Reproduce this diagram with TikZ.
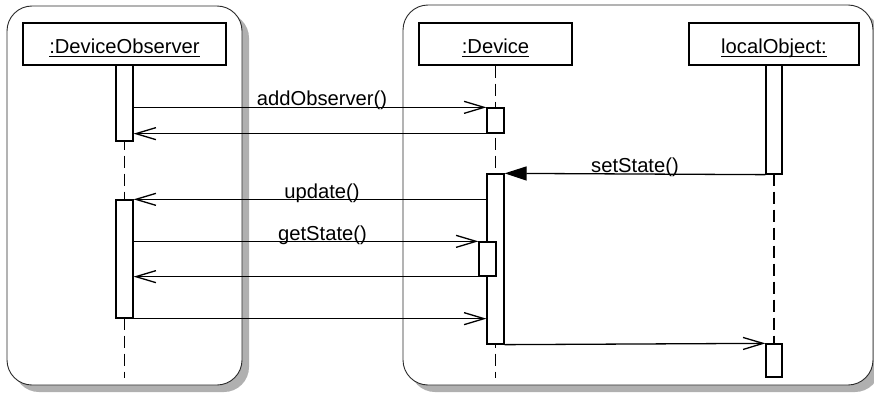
\documentclass[tikz,border=0pt]{standalone}
\usepackage{fontspec}
\setmainfont{Liberation Sans}
\usetikzlibrary{arrows.meta}
\newcommand{\ulx}[1]{\setbox0\hbox{#1}\rlap{\rule[-3.2pt]{\wd0}{1pt}}\box0}
\definecolor{shadowgrey}{HTML}{B0B0B0}
\definecolor{frameline}{HTML}{2A2A2A}
\begin{document}
\begin{tikzpicture}[x=1pt,y=-1pt,
  every node/.style={font=\fontsize{20.2}{24}\selectfont},
  frame/.style={draw=frameline,line width=0.9pt,fill=white,rounded corners=25pt},
  fshadow/.style={fill=shadowgrey,rounded corners=25pt},
  head/.style={draw,line width=1.3pt,fill=white,rectangle,minimum height=42pt,inner sep=0pt,text height=24pt,text depth=4pt},
  act/.style={draw,line width=1.3pt,fill=white,rectangle,minimum width=17pt,inner sep=0pt},
  life/.style={line width=1.3pt,dash pattern=on 12pt off 6pt},
  msg/.style={line width=1.3pt,-{Straight Barb[length=20pt,width=12pt,line width=1.3pt]}},
  syncmsg/.style={line width=1.3pt,-{Triangle[length=22pt,width=14pt]}},
  lbl/.style={anchor=base,inner sep=0pt}]
\useasboundingbox (0,0) rectangle (874,393);
\clip (0,0) rectangle (874,393);
\fill[white] (0,0) rectangle (874,393);
% containers
\path[fshadow] (14,13) rectangle (249,392);
\path[frame] (7,6) rectangle (242,385);
\path[fshadow] (410,12) rectangle (880,392);
\path[frame] (403,5) rectangle (873,385);
% heads
\node[head,minimum width=203pt] (obs) at (124.5,44) {\ulx{:DeviceObserver}};
\node[head,minimum width=153pt] (dev) at (495.5,44) {\ulx{:Device}};
\node[head,minimum width=170pt] (loc) at (774,44) {\ulx{localObject:}};
% end points of lifelines
\coordinate (obsend) at (124.5,378);
\coordinate (devend) at (495.5,378);
% activations (positions)
\coordinate (po1) at (124.5,103);
\coordinate (po2) at (124.5,259);
\coordinate (pd1) at (495.5,120.5);
\coordinate (pd2) at (495.5,259);
\coordinate (pd3) at (487.5,259);
\coordinate (pl1) at (774,119.5);
\coordinate (pl2) at (774,360.5);
% lifelines
\draw[life] (obs.south) -- (obsend);
\draw[life] (dev.south) -- (devend);
\draw[life] (loc.south) -- (pl2);
% activation bars
\node[act,minimum height=76pt] (o1) at (po1) {};
\node[act,minimum height=118pt] (o2) at (po2) {};
\node[act,minimum height=25pt] (d1) at (pd1) {};
\node[act,minimum height=170pt] (d2) at (pd2) {};
\node[act,minimum height=34pt] (d3) at (pd3) {};
\node[act,minimum width=16pt,minimum height=109pt] (l1) at (pl1) {};
\node[act,minimum width=16pt,minimum height=33pt] (l2) at (pl2) {};
% messages
\draw[msg] (o1.east |- d1.north west) -- (d1.north west);
\draw[msg] (d1.south west) -- (o1.east |- d1.south west);
\draw[syncmsg] (l1.south west) -- (d2.north east);
\draw[msg] (d2.west |- o2.north east) -- (o2.north east);
\draw[msg] (o2.east |- d3.north west) -- (d3.north west);
\draw[msg] (d3.south west) -- (o2.east |- d3.south west);
\draw[msg] (o2.south east) -- (d2.west |- o2.south east);
\draw[msg] (d2.south east) -- (l2.north west);
% labels
\node[lbl] (t1) at (322,105.5) {addObserver()};
\node[lbl] (t2) at (635,172.5) {setState()};
\node[lbl] (t3) at (322,198) {update()};
\node[lbl] (t4) at (322.5,240) {getState()};
\end{tikzpicture}
\end{document}
